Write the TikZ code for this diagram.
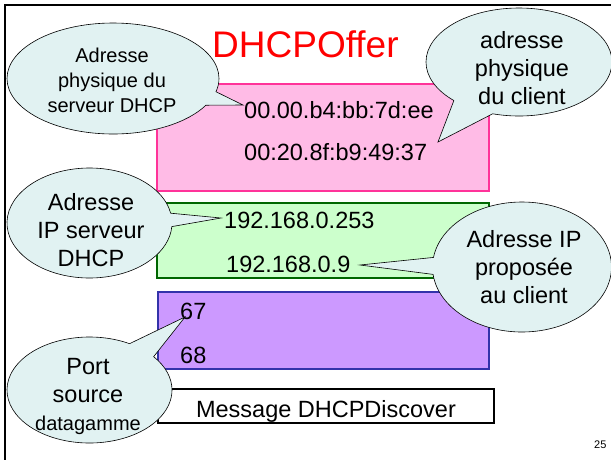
\documentclass[tikz,border=0pt]{standalone}
\usepackage{fontspec}
\setmainfont{Liberation Sans}
\usetikzlibrary{shapes.callouts}
\definecolor{pinkfill}{HTML}{FFBBE6}
\definecolor{pinkline}{HTML}{FF3399}
\definecolor{greenfill}{HTML}{CCFFCC}
\definecolor{greenline}{HTML}{006600}
\definecolor{purplefill}{HTML}{CC99FF}
\definecolor{purpleline}{HTML}{3333AA}
\definecolor{bubblefill}{HTML}{E1F2F2}
\definecolor{titlered}{HTML}{FF0000}
\tikzset{
  fieldbox/.style={rectangle, inner sep=0pt, line width=1.2pt},
  bubble/.style={ellipse callout, draw=black, line width=0.6pt, fill=bubblefill, inner sep=0pt},
  bigtext/.style={font=\fontsize{23.5}{28}\selectfont, inner sep=0pt},
  smalltext/.style={font=\fontsize{20}{25}\selectfont, inner sep=0pt},
  bubbletext/.style={align=center, inner sep=0pt, text=black}
}
\begin{document}
\begin{tikzpicture}[x=1pt,y=-1pt]
\useasboundingbox (0,0) rectangle (611,459);
% frame
\draw[line width=2pt] (5,470) -- (5,5) -- (620,5);
% title
\node[anchor=base west, inner sep=0pt, text=titlered, font=\fontsize{37}{40}\selectfont] (title) at (212,57) {DHCPOffer};
% field boxes
\node[fieldbox, draw=pinkline, fill=pinkfill, minimum width=332pt, minimum height=107pt] (pinkbox) at (323,137.5) {};
\node[fieldbox, draw=greenline, fill=greenfill, minimum width=332pt, minimum height=75pt] (greenbox) at (323,240.5) {};
\node[fieldbox, draw=purpleline, fill=purplefill, minimum width=331pt, minimum height=77pt] (purplebox) at (323.5,330.5) {};
\node[fieldbox, draw=black, fill=white, minimum width=336pt, minimum height=34pt] (msgbox) at (326,406) {};
% field texts
\node[bigtext, anchor=base west] (mac1) at (244,118) {00.00.b4:bb:7d:ee};
\node[bigtext, anchor=base west] (mac2) at (244,160) {00:20.8f:b9:49:37};
\node[bigtext, anchor=base west] (ip1) at (224,228) {192.168.0.253};
\node[bigtext, anchor=base west] (ip2) at (226,272) {192.168.0.9};
\node[bigtext, anchor=base west] (p67) at (180,319) {67};
\node[bigtext, anchor=base west] (p68) at (180,363) {68};
\node[bigtext, anchor=base] (msg) at (326,417) {Message DHCPDiscover};
\node[anchor=base west, inner sep=0pt, font=\fontsize{11}{12}\selectfont] (pagenum) at (594,448) {25};
% pointer targets
\coordinate (t1) at (243,105);
\coordinate (t2) at (438,142);
\coordinate (t3) at (221,218);
\coordinate (t4) at (360,265);
\coordinate (t5) at (185,317);
% bubbles
\node[bubble, minimum width=212pt, minimum height=111pt, callout absolute pointer={(t1)}, callout pointer arc=15] (b1) at (113,78.5) {};
\node[bubbletext, smalltext] (b1text) at (112,80) {Adresse\\physique du\\serveur DHCP};
\node[bubble, minimum width=186pt, minimum height=108pt, callout absolute pointer={(t2)}, callout pointer arc=28] (b2) at (519,62) {};
\node[bubbletext, bigtext] (b2text) at (522,68) {adresse\\physique\\du client};
\node[bubble, minimum width=165pt, minimum height=110pt, callout absolute pointer={(t3)}, callout pointer arc=14] (b3) at (89.5,223) {};
\node[bubbletext, bigtext] (b3text) at (91,230) {Adresse\\IP serveur\\DHCP};
\node[bubble, minimum width=179pt, minimum height=130pt, callout absolute pointer={(t4)}, callout pointer arc=15] (b4) at (522,267) {};
\node[bubbletext, bigtext] (b4text) at (524,267) {Adresse IP\\proposée\\au client};
\node[bubble, minimum width=165pt, minimum height=106pt, callout absolute pointer={(t5)}, callout pointer arc=22] (b5) at (89.5,390) {};
\node[bubbletext, bigtext] (b5text) at (88,396) {Port\\source\\\fontsize{20}{27}\selectfont datagamme};
\end{tikzpicture}
\end{document}
